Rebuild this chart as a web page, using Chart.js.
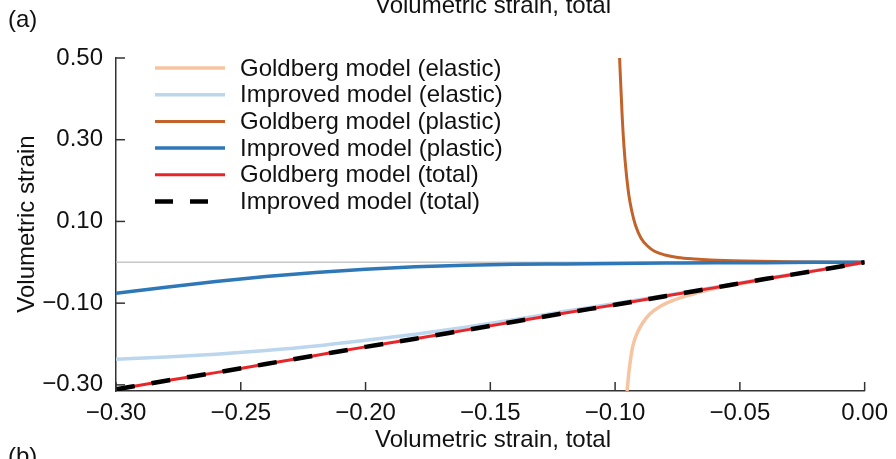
<!DOCTYPE html>
<html>
<head>
<meta charset="utf-8">
<script src="https://cdn.jsdelivr.net/npm/chart.js@4.4.1/dist/chart.umd.min.js"></script>
<style>
  html, body { margin: 0; padding: 0; background: #fff; }
  canvas { display: block; }
</style>
</head>
<body>
<canvas id="strainChart" width="896" height="459"></canvas>
<script>
const xTickValues = [-0.30, -0.25, -0.20, -0.15, -0.10, -0.05, 0.00];
const yTickValues = [-0.30, -0.10, 0.10, 0.30, 0.50];

// common strain grid (total strain)
const totalStrain = [-0.30, -0.28, -0.26, -0.24, -0.22, -0.20, -0.18, -0.16, -0.14, -0.12, -0.10, -0.08, -0.06, -0.04, -0.02, 0.00];
const goldbergTotal = [-0.311, -0.290, -0.270, -0.249, -0.228, -0.207, -0.187, -0.166, -0.145, -0.124, -0.104, -0.083, -0.062, -0.041, -0.021, 0.000];
const improvedTotal = [-0.311, -0.290, -0.270, -0.249, -0.228, -0.207, -0.187, -0.166, -0.145, -0.124, -0.104, -0.083, -0.062, -0.041, -0.021, 0.000];
const improvedPlastic = [-0.076, -0.061, -0.047, -0.035, -0.025, -0.017, -0.011, -0.007, -0.005, -0.004, -0.003, -0.002, -0.001, -0.001, 0.000, 0.000];
const improvedElastic = [-0.237, -0.232, -0.225, -0.216, -0.205, -0.191, -0.176, -0.159, -0.140, -0.120, -0.101, -0.081, -0.061, -0.040, -0.021, 0.000];

// Goldberg curves blow up near -0.10
const goldPlasticX = [-0.0982, -0.0977, -0.0971, -0.0964, -0.0956, -0.0945, -0.0933, -0.0918, -0.0896, -0.0870, -0.0842, -0.0800, -0.0749, -0.0680, -0.0617, -0.0482, -0.0300, 0.0000];
const goldPlasticY = [0.500, 0.430, 0.350, 0.280, 0.223, 0.165, 0.125, 0.090, 0.059, 0.040, 0.027, 0.018, 0.012, 0.008, 0.0056, 0.003, 0.0012, 0.000];
const goldElasticX = [-0.0952, -0.0943, -0.0929, -0.0909, -0.0889, -0.0860, -0.0820, -0.0770, -0.0700, -0.0620, -0.0540, -0.0450, -0.0300, -0.0150, 0.0000];
const goldElasticY = [-0.315, -0.260, -0.205, -0.170, -0.148, -0.126, -0.108, -0.094, -0.080, -0.067, -0.057, -0.047, -0.031, -0.0155, 0.000];

const zeroLineX = [-0.30, 0.00];
const zeroLineY = [0, 0];

const pts = (xs, ys) => xs.map((x, i) => ({ x, y: ys[i] }));
const fmt = v => (v < 0 ? '\u2212' : '') + Math.abs(v).toFixed(2);
const FONT = '"Liberation Sans", Arial, sans-serif';
const FSIZE = 24;

// lower `order` is drawn on top
const datasets = [
  { label: 'Goldberg model (elastic)', data: pts(goldElasticX, goldElasticY), borderColor: '#f6c4a0', borderWidth: 3.5, order: 5 },
  { label: 'Improved model (elastic)', data: pts(totalStrain, improvedElastic), borderColor: '#bcd6ee', borderWidth: 3.5, order: 4 },
  { label: 'Goldberg model (plastic)', data: pts(goldPlasticX, goldPlasticY), borderColor: '#c2632b', borderWidth: 3, order: 3 },
  { label: 'Improved model (plastic)', data: pts(totalStrain, improvedPlastic), borderColor: '#2f78b8', borderWidth: 3.5, order: 2 },
  { label: 'Goldberg model (total)', data: pts(totalStrain, goldbergTotal), borderColor: '#e8262a', borderWidth: 3, order: 1 },
  { label: 'Improved model (total)', data: pts(totalStrain, improvedTotal), borderColor: '#000', borderWidth: 4.5, borderDash: [19, 17], order: 0 },
  { label: 'zero', data: pts(zeroLineX, zeroLineY), borderColor: '#c8c8c8', borderWidth: 1.5, order: 6, noLegend: true }
].map(d => Object.assign({ pointRadius: 0, fill: false, cubicInterpolationMode: 'monotone' }, d));

// texts, inside ticks and legend
const decor = {
  id: 'decor',
  afterDraw(chart) {
    const { ctx, chartArea: a, scales: { x, y } } = chart;
    ctx.save();
    ctx.strokeStyle = '#333';
    ctx.lineWidth = 1.5;
    xTickValues.forEach(v => {
      const px = x.getPixelForValue(v);
      ctx.beginPath(); ctx.moveTo(px, a.bottom); ctx.lineTo(px, a.bottom - 9); ctx.stroke();
    });
    yTickValues.forEach(v => {
      const py = y.getPixelForValue(v);
      ctx.beginPath(); ctx.moveTo(a.left, py); ctx.lineTo(a.left + 9, py); ctx.stroke();
    });

    ctx.fillStyle = '#111';
    ctx.font = FSIZE + 'px ' + FONT;
    ctx.textAlign = 'left';
    ctx.textBaseline = 'middle';
    ctx.fillText('(a)', 8, 20);
    ctx.textBaseline = 'top';
    ctx.fillText('(b)', 8, 445);
    ctx.textAlign = 'center';
    ctx.textBaseline = 'alphabetic';
    ctx.fillText('Volumetric strain, total', 493, 13);
    ctx.textBaseline = 'middle';
    ctx.fillText('Volumetric strain, total', 493, 440);
    ctx.save();
    ctx.translate(27, 224);
    ctx.rotate(-Math.PI / 2);
    ctx.fillText('Volumetric strain', 0, 0);
    ctx.restore();

    // legend
    let row = 0;
    chart.data.datasets.forEach(d => {
      if (d.noLegend) return;
      const cy = 68 + row * 26.7;
      ctx.save();
      ctx.strokeStyle = d.borderColor;
      ctx.lineWidth = d.borderWidth;
      if (d.borderDash) ctx.setLineDash([18, 17]);
      ctx.beginPath(); ctx.moveTo(155, cy); ctx.lineTo(225, cy); ctx.stroke();
      ctx.restore();
      ctx.textAlign = 'left';
      ctx.fillText(d.label, 240, cy + 1);
      row++;
    });
    ctx.restore();
  }
};

new Chart(document.getElementById('strainChart'), {
  type: 'line',
  data: { datasets },
  plugins: [decor],
  options: {
    responsive: false,
    animation: false,
    layout: { padding: { top: 58, right: 29, left: 0, bottom: 0 } },
    plugins: { legend: { display: false }, tooltip: { enabled: false } },
    scales: {
      x: {
        type: 'linear', min: -0.30, max: 0.00,
        afterBuildTicks: s => { s.ticks = xTickValues.map(v => ({ value: v })); },
        afterFit: s => { s.height = 68; },
        grid: { display: false, drawTicks: false },
        border: { display: true, color: '#333', width: 1.5 },
        ticks: { callback: fmt, padding: 8, maxRotation: 0, autoSkip: false, color: '#111', font: { family: FONT, size: FSIZE } }
      },
      y: {
        type: 'linear', min: -0.315, max: 0.50,
        afterBuildTicks: s => { s.ticks = yTickValues.map(v => ({ value: v })); },
        afterFit: s => { s.width = 116; },
        grid: { display: false, drawTicks: false },
        border: { display: true, color: '#333', width: 1.5 },
        ticks: { callback: fmt, padding: 13, autoSkip: false, color: '#111', font: { family: FONT, size: FSIZE } }
      }
    }
  }
});
</script>
</body>
</html>
